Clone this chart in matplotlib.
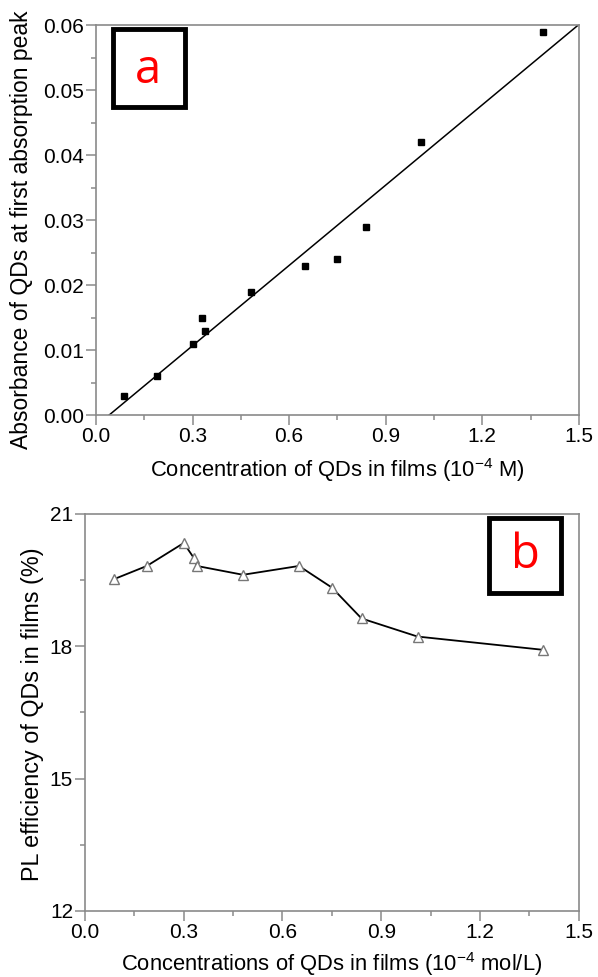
import numpy as np
import matplotlib.pyplot as plt
from matplotlib.patches import Rectangle
from matplotlib.ticker import MultipleLocator

plt.rcParams['font.family'] = ['Liberation Sans', 'DejaVu Sans']
plt.rcParams['mathtext.fontset'] = 'custom'
plt.rcParams['mathtext.rm'] = 'Liberation Sans'

# Data
conc = [0.088, 0.188, 0.30, 0.33, 0.34, 0.48, 0.65, 0.75, 0.84, 1.01, 1.39]
absorbance = [0.003, 0.006, 0.011, 0.015, 0.013, 0.019, 0.023, 0.024, 0.029, 0.042, 0.059]
pl_eff = [19.52, 19.82, 20.34, 20.01, 19.82, 19.62, 19.82, 19.33, 18.63, 18.22, 17.92]

spine_col = '#8a8a8a'

fig = plt.figure(figsize=(5.98, 9.77), dpi=100)
ax1 = fig.add_axes([0.1605, 0.575, 0.8075, 0.399])
ax2 = fig.add_axes([0.142, 0.0676, 0.826, 0.4064])

# linear fit for panel a
k, b = np.polyfit(conc, absorbance, 1)
x_fit = np.array([-b / k, 1.5])
ax1.plot(x_fit, k * x_fit + b, color='black', lw=1.1)
ax1.plot(conc, absorbance, 's', color='black', ms=4.5)
ax1.set_xlim(0, 1.5)
ax1.set_ylim(0, 0.06)
ax1.xaxis.set_major_locator(MultipleLocator(0.3))
ax1.xaxis.set_minor_locator(MultipleLocator(0.15))
ax1.yaxis.set_major_locator(MultipleLocator(0.01))
ax1.yaxis.set_minor_locator(MultipleLocator(0.005))
ax1.xaxis.set_major_formatter(plt.FuncFormatter(lambda v, p: f'{v:.1f}'))
ax1.yaxis.set_major_formatter(plt.FuncFormatter(lambda v, p: f'{v:.2f}'))
ax1.set_xlabel(r'Concentration of QDs in films (10$^{\mathregular{-4}}$ M)', fontsize=15.8)
ax1.set_ylabel('Absorbance of QDs at first absorption peak', fontsize=16.5)
ax1.xaxis.set_label_coords(0.5, -0.105)
ax1.yaxis.set_label_coords(-0.13, 0.477)

# panel b
ax2.plot(conc, pl_eff, '-', color='black', lw=1.3, marker='^', ms=7,
         mfc='white', mec='#777777', mew=1.0)
ax2.set_xlim(0, 1.5)
ax2.set_ylim(12, 21)
ax2.xaxis.set_major_locator(MultipleLocator(0.3))
ax2.xaxis.set_minor_locator(MultipleLocator(0.15))
ax2.yaxis.set_major_locator(MultipleLocator(3))
ax2.yaxis.set_minor_locator(MultipleLocator(1.5))
ax2.xaxis.set_major_formatter(plt.FuncFormatter(lambda v, p: f'{v:.1f}'))
ax2.set_xlabel(r'Concentrations of QDs in films (10$^{\mathregular{-4}}$ mol/L)', fontsize=15.8)
ax2.set_ylabel('PL efficiency of QDs in films (%)', fontsize=16.8)
ax2.xaxis.set_label_coords(0.5, -0.098)
ax2.yaxis.set_label_coords(-0.083, 0.495)

for ax in (ax1, ax2):
    for s in ax.spines.values():
        s.set_color(spine_col)
        s.set_linewidth(1.2)
    ax.tick_params(which='major', direction='out', length=7, width=1.1,
                   color=spine_col, labelsize=15, pad=1.5)
    ax.tick_params(which='minor', direction='out', length=3.5, width=1.1,
                   color=spine_col)

# panel tags
fig.patches.append(Rectangle((112.7 / 598, 1 - 106.7 / 977), 72.3 / 598, 77.7 / 977,
                             transform=fig.transFigure, fill=False, ec='black', lw=3.5))
fig.text(148 / 598, 1 - 70 / 977, 'a', color='red', fontsize=34,
         family='Open Sans', ha='center', va='center')
fig.patches.append(Rectangle((489 / 598, 1 - 593 / 977), 72 / 598, 75 / 977,
                             transform=fig.transFigure, fill=False, ec='black', lw=3.5))
fig.text(525 / 598, 1 - 555 / 977, 'b', color='red', fontsize=34,
         family='Open Sans', ha='center', va='center')

fig.savefig('out.png', dpi=100)
